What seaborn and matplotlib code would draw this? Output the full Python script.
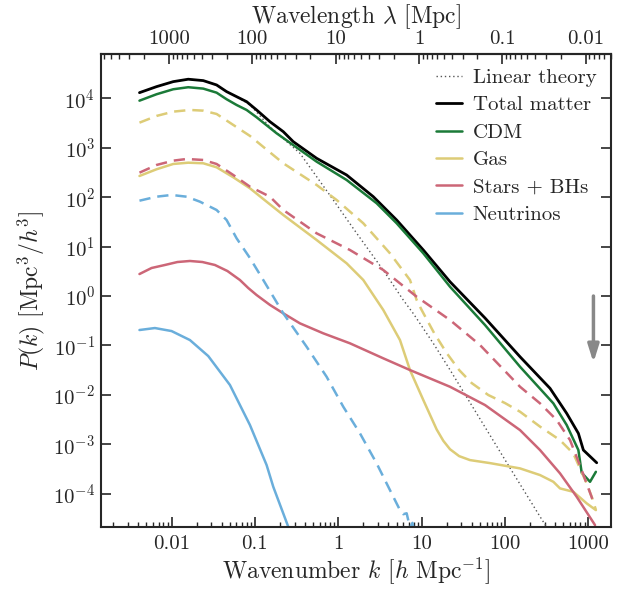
import numpy as np
import pandas as pd
import matplotlib
matplotlib.use("Agg")
import matplotlib.pyplot as plt
from matplotlib import ticker
import seaborn as sns

# ---- power spectra (log10 k [h/Mpc], log10 P [Mpc^3/h^3]) ----
logk_total = [-2.385, -2.18, -1.98, -1.80, -1.62, -1.46, -1.34, -1.22, -1.10, -0.98, -0.82, -0.66, -0.54,
              -0.26, 0.10, 0.42, 0.70, 1.02, 1.34, 1.76, 2.18, 2.54, 2.74, 2.88, 2.94, 3.10]
logP_total = [4.115, 4.237, 4.338, 4.387, 4.359, 4.271, 4.136, 4.034, 3.933, 3.765, 3.528, 3.326, 3.123,
              2.787, 2.449, 2.010, 1.538, 0.931, 0.289, -0.445, -1.229, -1.868, -2.375, -2.779, -3.117, -3.374]

logk_cdm = [-2.385, -2.18, -1.98, -1.80, -1.62, -1.46, -1.34, -1.22, -1.10, -0.98, -0.74, -0.26, 0.10,
            0.46, 0.70, 1.02, 1.34, 1.76, 2.18, 2.58, 2.74, 2.88, 2.92, 3.02, 3.09]
logP_cdm = [3.953, 4.083, 4.184, 4.225, 4.197, 4.115, 3.982, 3.866, 3.765, 3.617, 3.293, 2.719, 2.348,
            1.877, 1.472, 0.864, 0.188, -0.587, -1.431, -2.172, -2.611, -3.117, -3.577, -3.759, -3.557]

logk_gas_b = [-2.385, -2.18, -1.98, -1.78, -1.62, -1.46, -1.26, -1.06, -0.66, -0.26, -0.02, 0.30, 0.62,
              0.86, 0.94, 1.00, 1.15, 1.30, 1.45, 1.60, 1.80, 2.00, 2.18, 2.42, 2.66, 2.82, 2.98, 3.04, 3.09]
logP_gas_b = [3.508, 3.644, 3.731, 3.765, 3.751, 3.684, 3.462, 3.240, 2.686, 2.247, 1.943, 1.472, 0.864,
              0.324, -0.081, -0.283, -0.750, -1.154, -1.498, -1.761, -2.004, -2.166, -2.341, -2.643,
              -2.916, -3.188, -3.792, -4.064, -4.327]

logk_stars_b = [-2.385, -2.18, -1.98, -1.82, -1.62, -1.46, -1.26, -1.06, -0.82, -0.66, -0.26, 0.14, 0.54,
                0.94, 1.34, 1.70, 2.18, 2.42, 2.62, 2.78, 2.92, 3.06]
logP_stars_b = [2.496, 2.652, 2.739, 2.773, 2.753, 2.672, 2.449, 2.213, 2.010, 1.741, 1.269, 0.931, 0.526,
                -0.014, -0.486, -0.992, -1.836, -2.172, -2.510, -2.915, -3.522, -4.164]

logk_nu_b = [-2.385, -2.18, -2.00, -1.82, -1.66, -1.46, -1.34, -1.22, -1.06, -0.90, -0.66, -0.38, -0.14,
             0.06, 0.26, 0.46, 0.66, 0.74, 0.78, 0.82, 0.86, 0.89, 0.92]
logP_nu_b = [1.929, 2.010, 2.045, 2.010, 1.909, 1.741, 1.538, 1.168, 0.769, 0.324, -0.350, -1.026, -1.634,
             -2.241, -2.779, -3.387, -4.063, -4.332, -4.415, -4.396, -4.688, -4.590, -4.882]

logk_gas = [-2.385, -2.18, -1.98, -1.80, -1.62, -1.46, -1.26, -1.06, -0.86, -0.66, -0.26, 0.10, 0.30,
            0.46, 0.54, 0.74, 0.86, 1.02, 1.18, 1.26, 1.34, 1.45, 1.58, 1.82, 2.18, 2.42, 2.58, 2.66,
            2.82, 2.98, 3.09]
logP_gas = [2.429, 2.565, 2.672, 2.698, 2.686, 2.605, 2.403, 2.180, 1.909, 1.640, 1.134, 0.662, 0.324,
            -0.081, -0.283, -0.891, -1.498, -2.105, -2.700, -2.930, -3.100, -3.240, -3.320, -3.381,
            -3.488, -3.623, -3.759, -3.893, -3.962, -4.196, -4.332]

logk_stars = [-2.385, -2.24, -2.08, -1.93, -1.78, -1.63, -1.48, -1.33, -1.18, -1.08, -0.98, -0.82, -0.66,
              -0.46, -0.18, 0.14, 0.54, 0.86, 1.34, 1.76, 2.18, 2.42, 2.66, 2.86, 3.08]
logP_stars = [0.445, 0.567, 0.628, 0.688, 0.709, 0.688, 0.628, 0.506, 0.324, 0.162, 0.020, -0.180, -0.350,
              -0.553, -0.755, -0.957, -1.261, -1.498, -1.836, -2.206, -2.713, -3.117, -3.589, -4.063, -4.636]

logk_nu = [-2.385, -2.20, -2.00, -1.78, -1.56, -1.30, -1.06, -0.86, -0.78, -0.60]
logP_nu = [-0.688, -0.648, -0.709, -0.891, -1.215, -1.800, -2.610, -3.420, -3.860, -4.670]

logk_lin = [-2.385, -2.18, -1.98, -1.80, -1.62, -1.46, -1.34, -1.22, -1.06, -0.82, -0.46, -0.06, 0.22,
            0.54, 0.78, 0.90, 1.14, 1.34, 1.70, 2.06, 2.42, 2.50]
logP_lin = [4.115, 4.237, 4.338, 4.387, 4.359, 4.271, 4.136, 4.034, 3.871, 3.423, 2.888, 1.943, 1.271,
            0.521, -0.082, -0.355, -0.958, -1.494, -2.487, -3.480, -4.464, -4.678]

# arrow marking the resolution limit
k_arrow = 1150
P_arrow_from, P_arrow_to = 1.0, 0.045

h = 0.6774
k_major = [0.01, 0.1, 1, 10, 100, 1000]
lam_major = [1000, 100, 10, 1, 0.1, 0.01]
P_major = [1e-4, 1e-3, 1e-2, 1e-1, 1e0, 1e1, 1e2, 1e3, 1e4]

# ---- style ----
sns.set_theme(style="ticks")
plt.rcParams.update({
    "font.family": "serif",
    "font.serif": ["cmr10"],
    "mathtext.fontset": "cm",
    "axes.formatter.use_mathtext": True,
    "axes.linewidth": 1.5,
    "font.size": 15,
})

c_total = "#000000"
c_cdm = "#1b7a38"
c_gas = "#DDCC77"
c_stars = "#CC6677"
c_nu = "#6AAEDB"

fig = plt.figure(figsize=(6.33, 5.90), dpi=100)
ax = fig.add_axes([0.159, 0.1068, 0.806, 0.8017])


def frame(lk, lp):
    return pd.DataFrame({"k": np.power(10.0, lk), "P": np.power(10.0, lp)})


lw = 1.8
dash = (4.5, 2.8)

sns.lineplot(data=frame(logk_lin, logP_lin), x="k", y="P", ax=ax, color="#555555",
             lw=1.0, linestyle=(0, (1, 2)), label="Linear theory", sort=False)
sns.lineplot(data=frame(logk_total, logP_total), x="k", y="P", ax=ax, color=c_total,
             lw=2.0, label="Total matter", sort=False)
sns.lineplot(data=frame(logk_cdm, logP_cdm), x="k", y="P", ax=ax, color=c_cdm,
             lw=lw, label="CDM", sort=False)
sns.lineplot(data=frame(logk_gas, logP_gas), x="k", y="P", ax=ax, color=c_gas,
             lw=lw, label="Gas", sort=False)
sns.lineplot(data=frame(logk_stars, logP_stars), x="k", y="P", ax=ax, color=c_stars,
             lw=lw, label="Stars + BHs", sort=False)
sns.lineplot(data=frame(logk_nu, logP_nu), x="k", y="P", ax=ax, color=c_nu,
             lw=lw, label="Neutrinos", sort=False)

for lk, lp, c in [(logk_gas_b, logP_gas_b, c_gas),
                  (logk_stars_b, logP_stars_b, c_stars),
                  (logk_nu_b, logP_nu_b, c_nu)]:
    sns.lineplot(data=frame(lk, lp), x="k", y="P", ax=ax, color=c, lw=lw,
                 sort=False, legend=False).lines[-1].set_dashes(dash)

ax.set_xscale("log")
ax.set_yscale("log")
ax.set_xlim(1.41e-3, 1.86e3)
ax.set_ylim(2.12e-5, 7.9e4)

ax.annotate("", xy=(k_arrow, P_arrow_to), xytext=(k_arrow, P_arrow_from),
            arrowprops=dict(arrowstyle="-|>,head_length=0.7,head_width=0.22",
                            color="#888888", lw=2.5, shrinkA=0, shrinkB=0))

ax.set_xlabel(r"Wavenumber $k$ [$h$ Mpc$^{-1}$]", fontsize=17, labelpad=1)
ax.set_ylabel(r"$P(k)$ [Mpc$^3/h^3$]", fontsize=17, labelpad=4)

ax.xaxis.set_major_locator(ticker.FixedLocator(k_major))
ax.xaxis.set_minor_locator(ticker.LogLocator(base=10, subs=np.arange(2, 10), numticks=20))
ax.xaxis.set_major_formatter(ticker.FixedFormatter([f"{v:g}" for v in k_major]))
ax.xaxis.set_minor_formatter(ticker.NullFormatter())
ax.yaxis.set_major_locator(ticker.FixedLocator(P_major))
ax.yaxis.set_major_formatter(ticker.LogFormatterSciNotation())
ax.yaxis.set_minor_locator(ticker.NullLocator())

ax.tick_params(which="major", direction="in", length=7, width=1.2, labelsize=15,
               top=False, right=True)
ax.tick_params(axis="x", which="major", pad=6)
ax.tick_params(axis="y", which="major", pad=4)
ax.tick_params(which="minor", direction="in", length=3.5, width=1.0, top=False, right=True)

secax = ax.secondary_xaxis("top", functions=(lambda k: 2 * np.pi / (k * h),
                                             lambda lam: 2 * np.pi / (lam * h)))
secax.xaxis.set_major_locator(ticker.FixedLocator(lam_major))
secax.xaxis.set_minor_locator(ticker.LogLocator(base=10, subs=np.arange(2, 10), numticks=20))
secax.xaxis.set_major_formatter(ticker.FixedFormatter([f"{v:g}" for v in lam_major]))
secax.xaxis.set_minor_formatter(ticker.NullFormatter())
secax.tick_params(which="major", direction="in", length=7, width=1.2, labelsize=15, pad=4)
secax.tick_params(which="minor", direction="in", length=3.5, width=1.0)
secax.spines["top"].set_linewidth(1.5)
secax.set_xlabel(r"Wavelength $\lambda$ [Mpc]", fontsize=17, labelpad=5)

leg = ax.legend(loc="upper right", frameon=False, fontsize=15, handlelength=1.25,
                handletextpad=0.5, labelspacing=0.42, borderaxespad=0.3)

fig.savefig("out.png", dpi=100)
